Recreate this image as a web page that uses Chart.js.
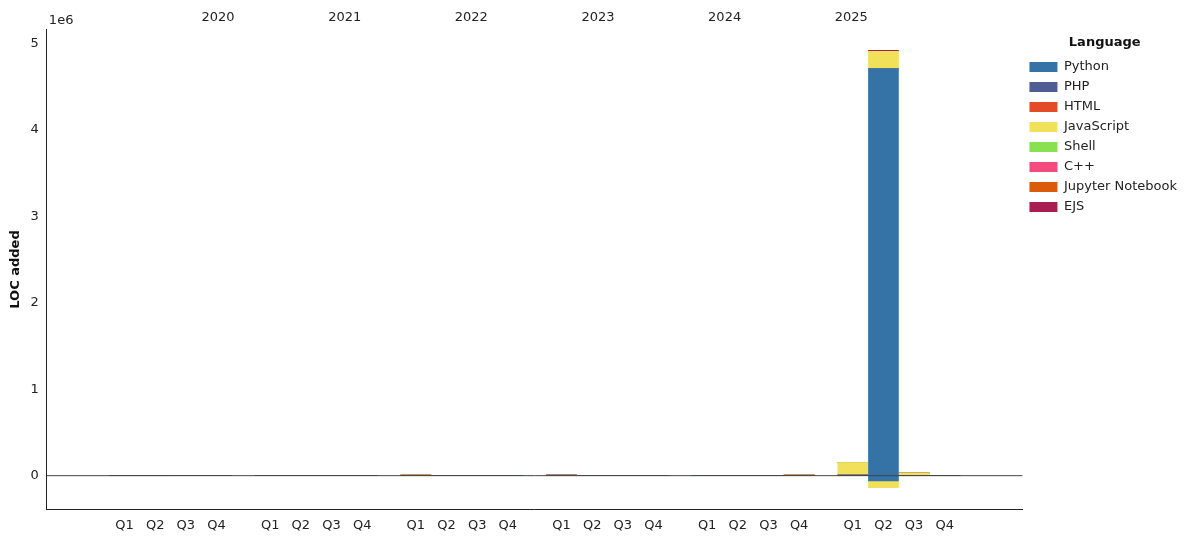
<!DOCTYPE html>
<html>
<head>
<meta charset="utf-8">
<script src="https://cdn.jsdelivr.net/npm/chart.js@4"></script>
<style>
  html, body { margin: 0; padding: 0; background: #fff; }
  #wrap { width: 1195px; height: 542px; }
</style>
</head>
<body>
<div id="wrap"><canvas id="locChart"></canvas></div>
<script>
const years = ['2020', '2021', '2022', '2023', '2024', '2025'];
const quarters = ['Q1', 'Q2', 'Q3', 'Q4'];
const languages = ['Python', 'PHP', 'HTML', 'JavaScript', 'Shell', 'C++', 'Jupyter Notebook', 'EJS'];
const colors = ['#3572A5', '#4F5D95', '#e34c26', '#f1e05a', '#89e051', '#f34b7d', '#DA5B0B', '#a91e50'];

// LOC added per quarter (24 quarters, 2020 Q1 .. 2025 Q4)
const python =     [0,0,0,0, 0,0,0,0, 3000,0,0,0, 4000,0,0,0, 0,0,0,2000, 3000,4710000,0,0];
const pythonNeg =  [0,0,0,0, 0,0,0,0, 0,0,0,0, 0,0,0,0, 0,0,0,0, 0,-60000,0,0];
const php =        [0,0,0,0, 0,0,0,0, 2000,0,0,0, 2000,0,0,0, 0,0,0,3000, 8000,0,0,0];
const html =       [0,0,0,0, 0,0,0,0, 1000,0,0,0, 1000,0,0,0, 0,0,0,1000, 0,0,0,0];
const javascript = [0,0,0,0, 0,0,0,0, 1000,0,0,0, 1000,0,0,0, 0,0,0,2000, 140000,200000,30000,0];
const jsNeg =      [0,0,0,0, 0,0,0,0, 0,0,0,0, 0,0,0,0, 0,0,0,0, 0,-80000,0,0];
const shell =      [0,0,0,0, 0,0,0,0, 0,0,0,0, 0,0,0,0, 0,0,0,0, 0,0,0,0];
const cpp =        [0,0,0,0, 0,0,0,0, 0,0,0,0, 0,0,0,0, 0,0,0,0, 0,0,0,0];
const jupyter =    [0,0,0,0, 0,0,0,0, 0,0,0,0, 0,0,0,0, 0,0,0,0, 0,0,0,0];
const ejs =        [0,0,0,0, 0,0,0,0, 0,0,0,0, 0,0,0,0, 0,0,0,0, 0,10000,0,0];

const GROUP = 4.75;
const xPos = [];
years.forEach((y, yi) => quarters.forEach((q, qi) => xPos.push(yi * GROUP + qi)));

const series = [python, php, html, javascript, shell, cpp, jupyter, ejs];
const datasets = series.map((vals, i) => ({
  label: languages[i],
  data: vals.map((v, k) => ({x: xPos[k], y: v})),
  backgroundColor: colors[i],
  borderColor: 'rgba(40,40,40,0.6)',
  borderWidth: 0,
  barThickness: 30,
  stack: 's'
}));
// negative parts (stacked below zero)
[[pythonNeg, 0], [jsNeg, 3]].forEach(([vals, i]) => {
  datasets.push({
    label: languages[i] + '_neg',
    data: vals.map((v, k) => ({x: xPos[k], y: v})),
    backgroundColor: colors[i],
    borderWidth: 0,
    barThickness: 30,
    stack: 's'
  });
});

const overlay = {
  id: 'overlay',
  afterDatasetsDraw(chart) {
    const {ctx, chartArea, scales} = chart;
    const y0 = scales.y.getPixelForValue(0);
    ctx.save();
    ctx.strokeStyle = '#444';
    ctx.lineWidth = 1;
    ctx.beginPath();
    ctx.moveTo(chartArea.left, y0);
    ctx.lineTo(chartArea.right, y0);
    ctx.stroke();
    ctx.fillStyle = '#222';
    ctx.font = '13px "DejaVu Sans"';
    ctx.textAlign = 'left';
    ctx.fillText('1e6', chartArea.left + 2, chartArea.top - 6);
    ctx.restore();
  }
};

new Chart(document.getElementById('locChart'), {
  type: 'bar',
  data: {datasets},
  plugins: [overlay],
  options: {
    responsive: true,
    maintainAspectRatio: false,
    animation: false,
    layout: {padding: {top: 6, right: 8, bottom: 6, left: 4}},
    scales: {
      x: {
        type: 'linear',
        stacked: true,
        min: -1.87,
        max: 5 * GROUP + 3 + 1.87,
        grid: {display: false, drawTicks: true, tickColor: '#222', tickLength: 5},
        border: {color: '#222'},
        afterBuildTicks: axis => { axis.ticks = xPos.map(v => ({value: v})); },
        ticks: {
          autoSkip: false,
          color: '#222',
          font: {family: 'DejaVu Sans', size: 13},
          callback: (v, idx) => quarters[idx % 4]
        }
      },
      top: {
        type: 'linear',
        position: 'top',
        min: -1.87,
        max: 5 * GROUP + 3 + 1.87,
        grid: {display: false, drawTicks: false},
        border: {display: false},
        afterBuildTicks: axis => { axis.ticks = years.map((y, yi) => ({value: yi * GROUP + 1.5})); },
        ticks: {
          autoSkip: false,
          color: '#222',
          padding: 4,
          font: {family: 'DejaVu Sans', size: 13},
          callback: (v, idx) => years[idx]
        }
      },
      y: {
        stacked: true,
        min: -390000,
        max: 5160000,
        grid: {display: false, tickColor: '#222', tickLength: 5},
        border: {color: '#222'},
        afterBuildTicks: axis => { axis.ticks = [0, 1, 2, 3, 4, 5].map(v => ({value: v * 1e6})); },
        ticks: {
          color: '#222',
          font: {family: 'DejaVu Sans', size: 13},
          callback: v => String(v / 1e6)
        },
        title: {
          display: true,
          text: 'LOC added',
          color: '#111',
          font: {family: 'DejaVu Sans', size: 13, weight: 'bold'}
        }
      }
    },
    plugins: {
      legend: {
        position: 'right',
        align: 'start',
        title: {
          display: true,
          text: 'Language',
          color: '#111',
          font: {family: 'DejaVu Sans', size: 13, weight: 'bold'},
          padding: {top: 30, bottom: 2}
        },
        labels: {
          boxWidth: 28,
          boxHeight: 10,
          color: '#222',
          padding: 7,
          font: {family: 'DejaVu Sans', size: 13},
          filter: item => !item.text.endsWith('_neg')
        }
      },
      tooltip: {enabled: false}
    }
  }
});
</script>
</body>
</html>
